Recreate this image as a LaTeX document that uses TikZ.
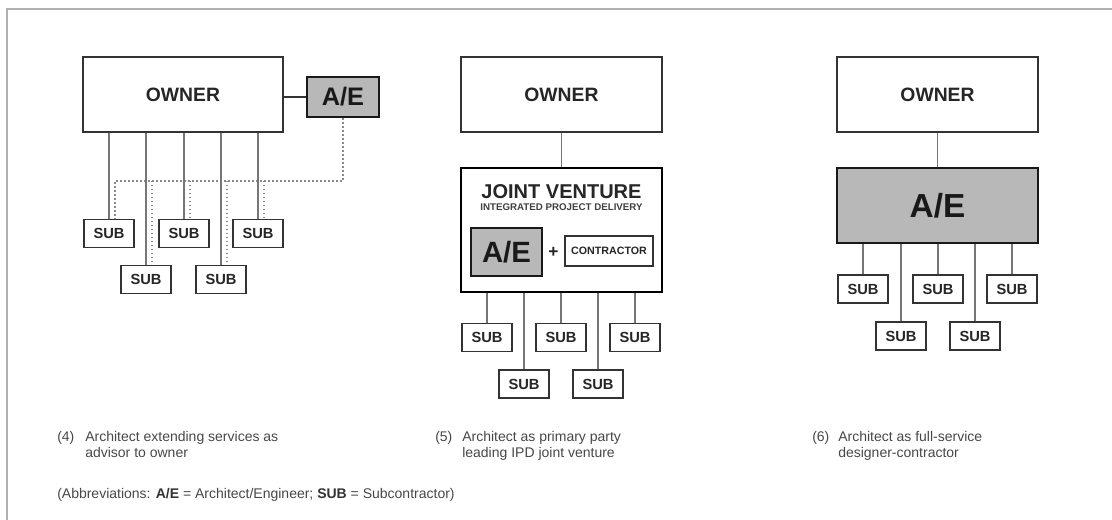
\documentclass[tikz,border=0pt]{standalone}
\usepackage{fontspec}
\setmainfont{Liberation Sans}
\usetikzlibrary{calc}
\definecolor{aefill}{gray}{0.72}
\definecolor{boxline}{HTML}{333333}
\definecolor{connline}{HTML}{767676}
\definecolor{dotcol}{HTML}{8A8A8A}
\definecolor{captext}{HTML}{474747}
\definecolor{framecol}{HTML}{B0B0B0}
\tikzset{
  ownerbox/.style={draw=boxline, line width=1.1pt, fill=white, minimum width=150pt, minimum height=56pt, inner sep=0pt, font=\bfseries\fontsize{14.5}{16}\selectfont, text=black!85},
  aebox/.style={draw=black!90, line width=2pt, fill=aefill, inner sep=0pt, text=black!90},
  jvbox/.style={draw=black, line width=2.2pt, fill=white, minimum width=150.75pt, minimum height=93pt, inner sep=0pt},
  subbox/.style={draw=boxline, line width=1pt, fill=white, minimum width=37.5pt, minimum height=21pt, inner sep=0pt, font=\bfseries\fontsize{11}{12}\selectfont, text=black!85},
  conbox/.style={draw=boxline, line width=1pt, fill=white, minimum width=66pt, minimum height=22.5pt, inner sep=0pt, font=\bfseries\fontsize{8}{9}\selectfont, text=black!85},
  conn/.style={draw=connline, line width=1.3pt},
  dotline/.style={draw=dotcol, line width=1pt, dotted},
  captxt/.style={anchor=base west, inner sep=0pt, text=captext, font=\fontsize{10.5}{12}\selectfont},
}
\begin{document}
\begin{tikzpicture}[x=0.75pt, y=-0.75pt]
\useasboundingbox (0,0) rectangle (1112,520);
% frame
\draw[framecol, line width=0.8pt] (7,520) coordinate (fb) -- (7,9) coordinate (fc) -- (1112,9) coordinate (fr);

% ---------------- Panel 1 ----------------
\node[ownerbox] (own1) at (183,94.5) {OWNER};
\node[aebox, minimum width=54pt, minimum height=30pt, font=\bfseries\fontsize{19}{20}\selectfont] (ae1) at (343,97) {A/E};
\draw[conn, draw=boxline] (own1.east |- ae1.west) -- (ae1.west);

\node[subbox] (s11) at (109,233.5) {SUB};
\node[subbox] (s12) at (146,279.5) {SUB};
\node[subbox] (s13) at (184,233.5) {SUB};
\node[subbox] (s14) at (221,279.5) {SUB};
\node[subbox] (s15) at (258,233.5) {SUB};

\coordinate (dj) at (0,181);
\path ($(s11.north)+(6,0)$) coordinate (d1);
\path ($(s12.north)+(6,0)$) coordinate (d2);
\path ($(s13.north)+(6,0)$) coordinate (d3);
\path ($(s14.north)+(6,0)$) coordinate (d4);
\path ($(s15.north)+(6,0)$) coordinate (d5);
\draw[dotline] (ae1.south) -- (ae1.south |- dj) -- (d1 |- dj) -- (d1);
\draw[dotline] (d2 |- dj) -- (d2);
\draw[dotline] (d3 |- dj) -- (d3);
\draw[dotline] (d4 |- dj) -- (d4);
\draw[dotline] (d5 |- dj) -- (d5);

\foreach \s in {s11,s12,s13,s14,s15}{
  \draw[conn] (\s.north |- own1.south) -- (\s.north);
}

% ---------------- Panel 2 ----------------
\node[ownerbox, minimum width=150.75pt] (own2) at (561.5,94.5) {OWNER};
\node[jvbox] (jv) at (561.5,230) {};
\draw[conn] (own2.south) -- (jv.north);
\node[inner sep=0pt, anchor=base, font=\bfseries\fontsize{15}{16}\selectfont, text=black!85] (jvt) at (561.5,199) {JOINT VENTURE};
\node[inner sep=0pt, anchor=base, font=\bfseries\fontsize{7.3}{8}\selectfont, text=black!75] (ipd) at (561.5,210.5) {INTEGRATED PROJECT DELIVERY};
\node[aebox, minimum width=53.25pt, minimum height=36pt, font=\bfseries\fontsize{22}{24}\selectfont] (ae2) at (506.5,252) {A/E};
\node[inner sep=0pt, font=\bfseries\fontsize{13}{14}\selectfont, text=black!85] (plus) at (553.5,252) {+};
\node[conbox] (con) at (609,251) {CONTRACTOR};

\node[subbox] (s21) at (487,337.5) {SUB};
\node[subbox] (s22) at (524,384) {SUB};
\node[subbox] (s23) at (561,337.5) {SUB};
\node[subbox] (s24) at (598,384) {SUB};
\node[subbox] (s25) at (635,337.5) {SUB};
\foreach \s in {s21,s22,s23,s24,s25}{
  \draw[conn] (\s.north |- jv.south) -- (\s.north);
}

% ---------------- Panel 3 ----------------
\node[ownerbox, minimum width=150.75pt] (own3) at (937.5,94.5) {OWNER};
\node[aebox, minimum width=150.75pt, minimum height=56pt, font=\bfseries\fontsize{25}{27}\selectfont] (ae3) at (937.5,205.5) {A/E};
\draw[conn] (own3.south) -- (ae3.north);

\node[subbox] (s31) at (863,289) {SUB};
\node[subbox] (s32) at (901,336) {SUB};
\node[subbox] (s33) at (938,289) {SUB};
\node[subbox] (s34) at (975,336) {SUB};
\node[subbox] (s35) at (1012,289) {SUB};
\foreach \s in {s31,s32,s33,s34,s35}{
  \draw[conn] (\s.north |- ae3.south) -- (\s.north);
}

% ---------------- Captions ----------------
\node[captxt] (c4n) at (57,441) {(4)};
\node[captxt] (c4a) at (85,441) {Architect extending services as};
\node[captxt] (c4b) at (85,457) {advisor to owner};

\node[captxt] (c5n) at (435,441) {(5)};
\node[captxt] (c5a) at (462,441) {Architect as primary party};
\node[captxt] (c5b) at (462,457) {leading IPD joint venture};

\node[captxt] (c6n) at (812,441) {(6)};
\node[captxt] (c6a) at (838,441) {Architect as full-service};
\node[captxt] (c6b) at (838,457) {designer-contractor};

\node[captxt] (abbr) at (57,498) {(Abbreviations: {\bfseries\color{black!80}A/E} = Architect/Engineer; {\bfseries\color{black!80}SUB} = Subcontractor)};
\end{tikzpicture}
\end{document}
